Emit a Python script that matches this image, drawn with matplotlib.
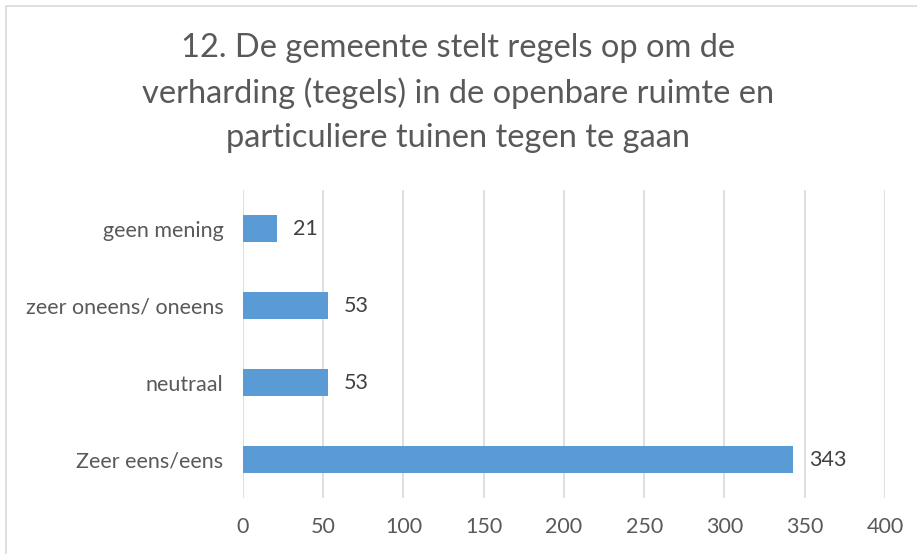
import matplotlib.pyplot as plt
from matplotlib.patches import Rectangle

plt.rcParams['font.family'] = ['Lato', 'DejaVu Sans']

# data (bottom to top)
categories = ['Zeer eens/eens', 'neutraal', 'zeer oneens/ oneens', 'geen mening']
values = [343, 53, 53, 21]
xticks = [0, 50, 100, 150, 200, 250, 300, 350, 400]

title = ('12. De gemeente stelt regels op om de\n'
         'verharding (tegels) in de openbare ruimte en\n'
         'particuliere tuinen tegen te gaan')

fig = plt.figure(figsize=(9.17, 5.54), dpi=100)
ax = fig.add_axes([0.265, 0.101, 0.7, 0.556])

bars = ax.barh(categories, values, height=0.35, color='#5B9BD5', zorder=3)
for b, v in zip(bars, values):
    ax.text(b.get_width() + 10, b.get_y() + b.get_height() / 2, str(v),
            va='center', ha='left', fontsize=15.5, color='#404040')

ax.set_xlim(0, 400)
ax.set_ylim(-0.5, len(categories) - 0.5)
ax.set_xticks(xticks)
ax.grid(axis='x', color='#D9D9D9', linewidth=1.2, zorder=0)
for s in ax.spines.values():
    s.set_visible(False)
ax.tick_params(axis='both', length=0, labelsize=15.5, labelcolor='#595959')
ax.tick_params(axis='x', pad=14)
ax.tick_params(axis='y', pad=14)

fig.text(0.5, 0.832, title, ha='center', va='center', fontsize=23.5,
         color='#595959', linespacing=1.57)

# chart border
fig.add_artist(Rectangle((0.007, -0.01), 1.0, 1.0, transform=fig.transFigure,
                         fill=False, edgecolor='#D9D9D9', linewidth=1.2))

fig.savefig('out.png', dpi=100)
